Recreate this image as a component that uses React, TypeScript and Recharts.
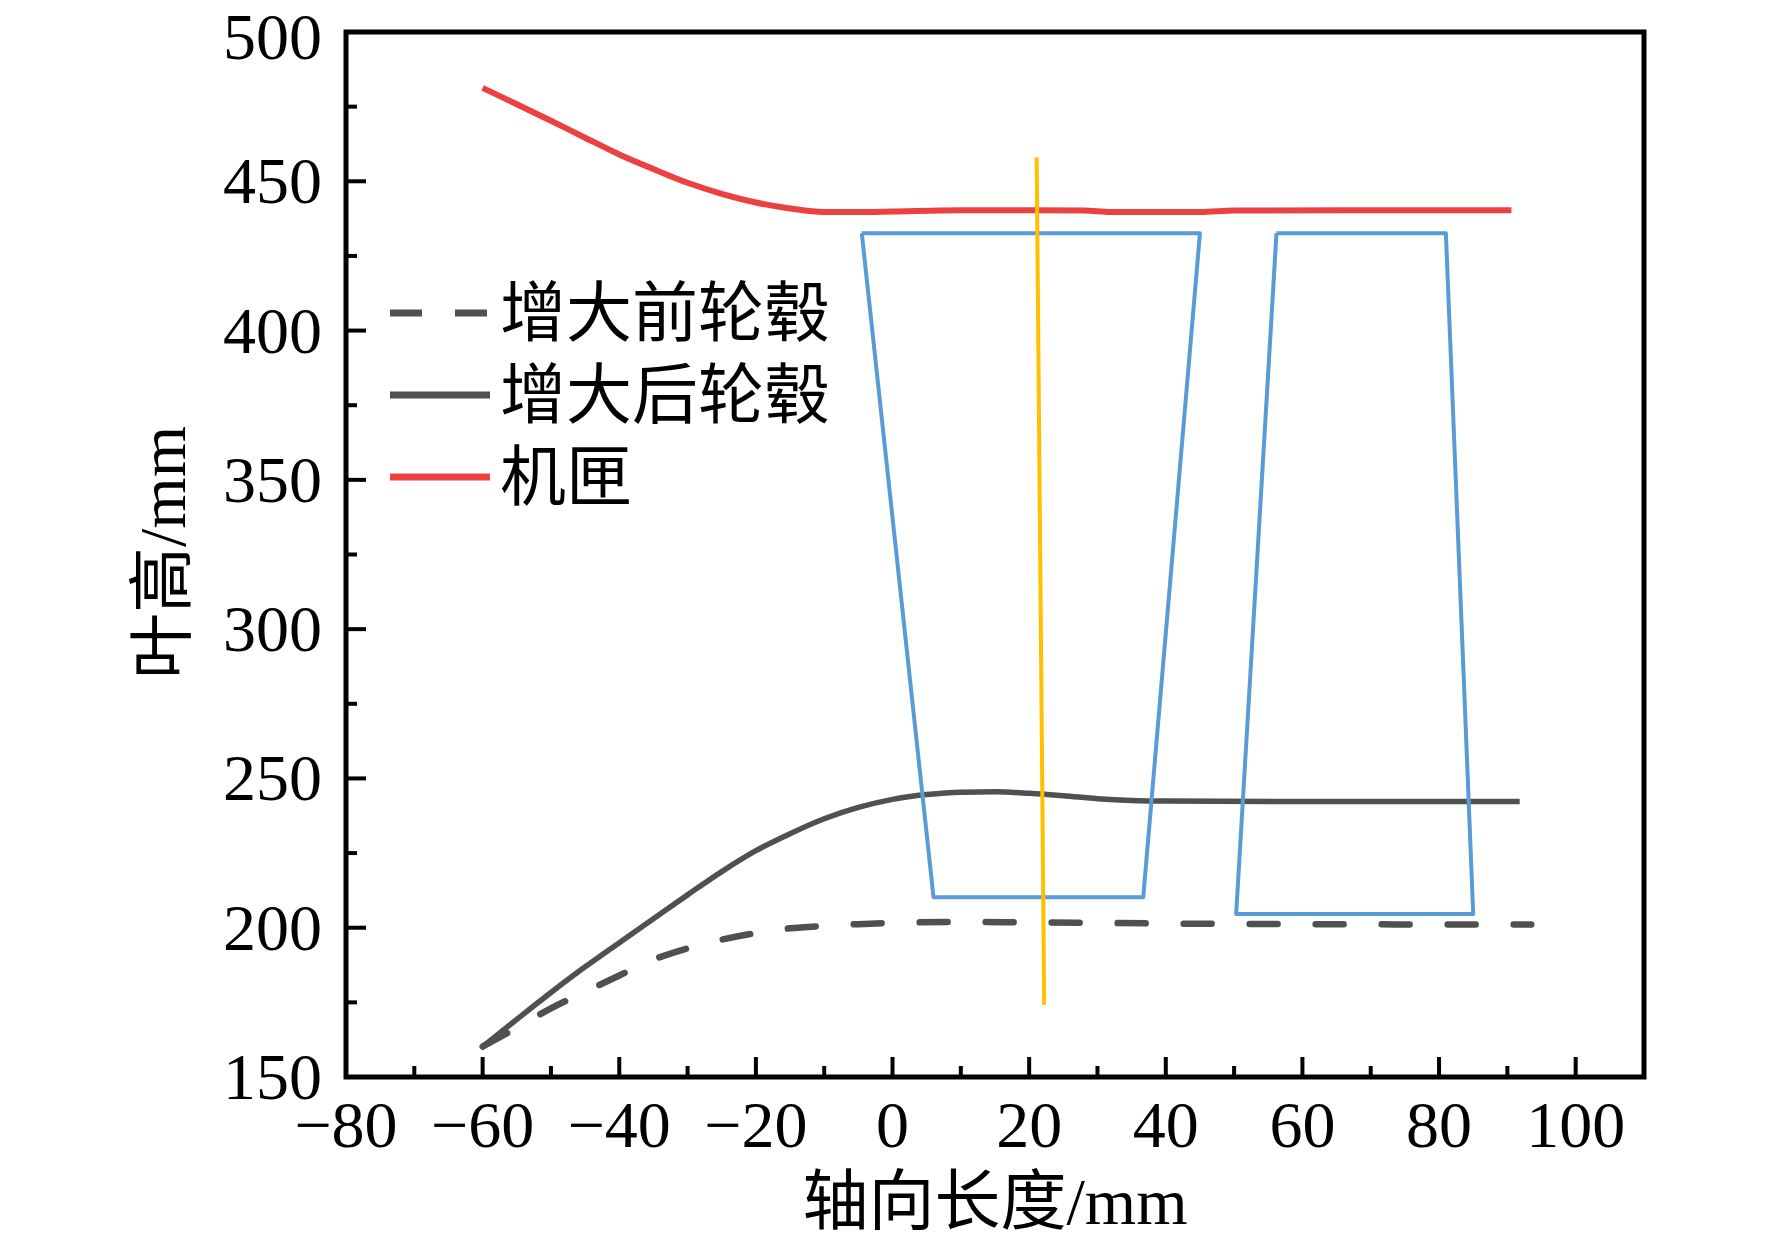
import React from "react";
import { LineChart, Line, XAxis, YAxis, ReferenceArea, Legend, Label } from "recharts";

const FONT = "'Liberation Serif', 'Times New Roman', 'Noto Sans CJK SC', serif";

const GRAY = "#505050";
const RED = "#eb4141";
const BLUE = "#5b9bd5";
const YELLOW = "#ffc000";

// axis ticks (major every 20 / 50, minor between)
const X_TICKS = [-80, -70, -60, -50, -40, -30, -20, -10, 0, 10, 20, 30, 40, 50, 60, 70, 80, 90, 100];
const Y_TICKS = [150, 175, 200, 225, 250, 275, 300, 325, 350, 375, 400, 425, 450, 475, 500];

// 增大前轮毂 (dashed)
const hubBeforeX = [-60, -55, -50, -45, -40, -35, -30, -25, -20, -15, -10, -5, 0, 10, 20, 30, 40, 60, 80, 93.5];
const hubBeforeY = [160.2, 166.5, 173, 178.5, 184, 189.3, 193.1, 196, 198.2, 199.8, 200.6, 201.2, 201.6, 201.9, 201.8, 201.6, 201.4, 201.2, 201.1, 201.1];

// 增大后轮毂 (solid)
const hubAfterX = [-60, -55, -50, -45, -40, -35, -30, -25, -20, -15, -10, -5, 0, 5, 10, 15, 20, 25, 30, 35, 40, 60, 80, 91.8];
const hubAfterY = [160.2, 169.3, 178.3, 186.9, 195, 203, 211, 218.8, 225.8, 231.5, 236.5, 240.3, 243, 244.6, 245.4, 245.5, 245, 244.2, 243.2, 242.6, 242.4, 242.3, 242.3, 242.3];

// 机匣
const casingX = [-60, -55, -50, -45, -40, -35, -30, -25, -20, -15, -10, -5, 0, 10, 20, 28, 32, 45, 50, 70, 90.6];
const casingY = [481.3, 475.8, 470.3, 464.6, 459, 454.1, 449.5, 445.8, 442.9, 440.9, 439.7, 439.7, 439.9, 440.3, 440.3, 440.2, 439.7, 439.7, 440.2, 440.3, 440.3];

// blade outlines
const blade1X = [-4.5, 45.0, 36.7, 6.0, -4.5];
const blade1Y = [432.6, 432.6, 210.2, 210.2, 432.6];
const blade2X = [56.2, 81.0, 85.0, 50.3, 56.2];
const blade2Y = [432.6, 432.6, 204.6, 204.6, 432.6];

// yellow section line
const sectionX = [21.1, 22.2];
const sectionY = [458.0, 174.1];

const toPoints = (xs: number[], ys: number[]) => xs.map((x, i) => ({ x, y: ys[i] }));

const fmt = (v: number) => (v < 0 ? `\u2212${Math.abs(v)}` : `${v}`);

const LEGEND_DASH: Record<string, string | undefined> = {
  "增大前轮毂": "32 33",
  "增大后轮毂": undefined,
  "机匣": undefined,
};

function XTick(props: any) {
  const { x, y, payload } = props;
  const v = payload.value as number;
  const major = v % 20 === 0;
  return (
    <g>
      <line x1={x} y1={y} x2={x} y2={y - (major ? 20 : 11)} stroke="#000" strokeWidth={4} />
      {major && (
        <text x={x} y={y + 70} textAnchor="middle" fontSize={66} fontFamily={FONT} fill="#000">
          {fmt(v)}
        </text>
      )}
    </g>
  );
}

function YTick(props: any) {
  const { x, y, payload } = props;
  const v = payload.value as number;
  const major = v % 50 === 0;
  // keep the top label inside the picture
  const dy = v === 500 ? 27 : 22;
  return (
    <g>
      <line x1={x} y1={y} x2={x + (major ? 20 : 11)} y2={y} stroke="#000" strokeWidth={4} />
      {major && (
        <text x={x - 24} y={y + dy} textAnchor="end" fontSize={66} fontFamily={FONT} fill="#000">
          {fmt(v)}
        </text>
      )}
    </g>
  );
}

function XTitle(props: any) {
  const { viewBox } = props;
  const cx = viewBox.x + viewBox.width / 2;
  return (
    <text x={cx} y={1224} textAnchor="middle" fontSize={66} fontFamily={FONT} fill="#000">
      轴向长度/mm
    </text>
  );
}

function YTitle(props: any) {
  const { viewBox } = props;
  const cx = 162;
  const cy = viewBox.y + viewBox.height / 2 - 2;
  return (
    <text
      x={cx}
      y={cy}
      transform={`rotate(-90 ${cx} ${cy})`}
      textAnchor="middle"
      dominantBaseline="central"
      fontSize={66}
      fontFamily={FONT}
      fill="#000"
    >
      叶高/mm
    </text>
  );
}

function renderLegend(props: any) {
  const items = (props.payload || []).filter((p: any) => p.type !== "none");
  return (
    <svg width={470} height={250} style={{ display: "block" }}>
      {items.map((p: any, i: number) => {
        const cy = 43 + i * 82;
        return (
          <g key={p.value}>
            <line
              x1={10}
              x2={110}
              y1={cy}
              y2={cy}
              stroke={p.color}
              strokeWidth={7}
              strokeDasharray={LEGEND_DASH[p.value]}
            />
            <text x={120} y={cy} dominantBaseline="central" fontSize={66} fontFamily={FONT} fill="#000">
              {p.value}
            </text>
          </g>
        );
      })}
    </svg>
  );
}

export default function App() {
  return (
    <div style={{ position: "absolute", left: 0, top: 0, width: 1772, height: 1248, background: "#fff" }}>
      <LineChart width={1772} height={1248} margin={{ top: 32, right: 128, bottom: 0, left: 0 }}>
        <XAxis
          dataKey="x"
          type="number"
          domain={[-80, 110]}
          allowDataOverflow
          ticks={X_TICKS}
          interval={0}
          height={171}
          tickSize={0}
          tickMargin={0}
          tickLine={false}
          axisLine={false}
          tick={<XTick />}
        >
          <Label content={<XTitle />} />
        </XAxis>
        <YAxis
          type="number"
          domain={[150, 500]}
          allowDataOverflow
          ticks={Y_TICKS}
          interval={0}
          width={346}
          tickSize={0}
          tickMargin={0}
          tickLine={false}
          axisLine={false}
          tick={<YTick />}
        >
          <Label content={<YTitle />} />
        </YAxis>
        <ReferenceArea x1={-80} x2={110} y1={150} y2={500} fill="none" stroke="#000" strokeWidth={5} fillOpacity={0} />
        <Legend
          layout="vertical"
          align="center"
          verticalAlign="middle"
          content={renderLegend}
          wrapperStyle={{ left: 380, top: 270, width: 470, height: 250 }}
        />
        <Line
          name="增大前轮毂"
          data={toPoints(hubBeforeX, hubBeforeY)}
          dataKey="y"
          type="monotone"
          stroke={GRAY}
          strokeWidth={6.5}
          strokeDasharray="28 38"
          strokeLinecap="round"
          dot={false}
          activeDot={false}
          isAnimationActive={false}
        />
        <Line
          name="增大后轮毂"
          data={toPoints(hubAfterX, hubAfterY)}
          dataKey="y"
          type="monotone"
          stroke={GRAY}
          strokeWidth={5.5}
          dot={false}
          activeDot={false}
          isAnimationActive={false}
        />
        <Line
          name="机匣"
          data={toPoints(casingX, casingY)}
          dataKey="y"
          type="monotone"
          stroke={RED}
          strokeWidth={6}
          dot={false}
          activeDot={false}
          isAnimationActive={false}
        />
        <Line
          name="blade1"
          legendType="none"
          data={toPoints(blade1X, blade1Y)}
          dataKey="y"
          type="linear"
          stroke={BLUE}
          strokeWidth={4}
          strokeLinejoin="round"
          dot={false}
          activeDot={false}
          isAnimationActive={false}
        />
        <Line
          name="blade2"
          legendType="none"
          data={toPoints(blade2X, blade2Y)}
          dataKey="y"
          type="linear"
          stroke={BLUE}
          strokeWidth={4}
          strokeLinejoin="round"
          dot={false}
          activeDot={false}
          isAnimationActive={false}
        />
        <Line
          name="section"
          legendType="none"
          data={toPoints(sectionX, sectionY)}
          dataKey="y"
          type="linear"
          stroke={YELLOW}
          strokeWidth={4}
          dot={false}
          activeDot={false}
          isAnimationActive={false}
        />
      </LineChart>
    </div>
  );
}
